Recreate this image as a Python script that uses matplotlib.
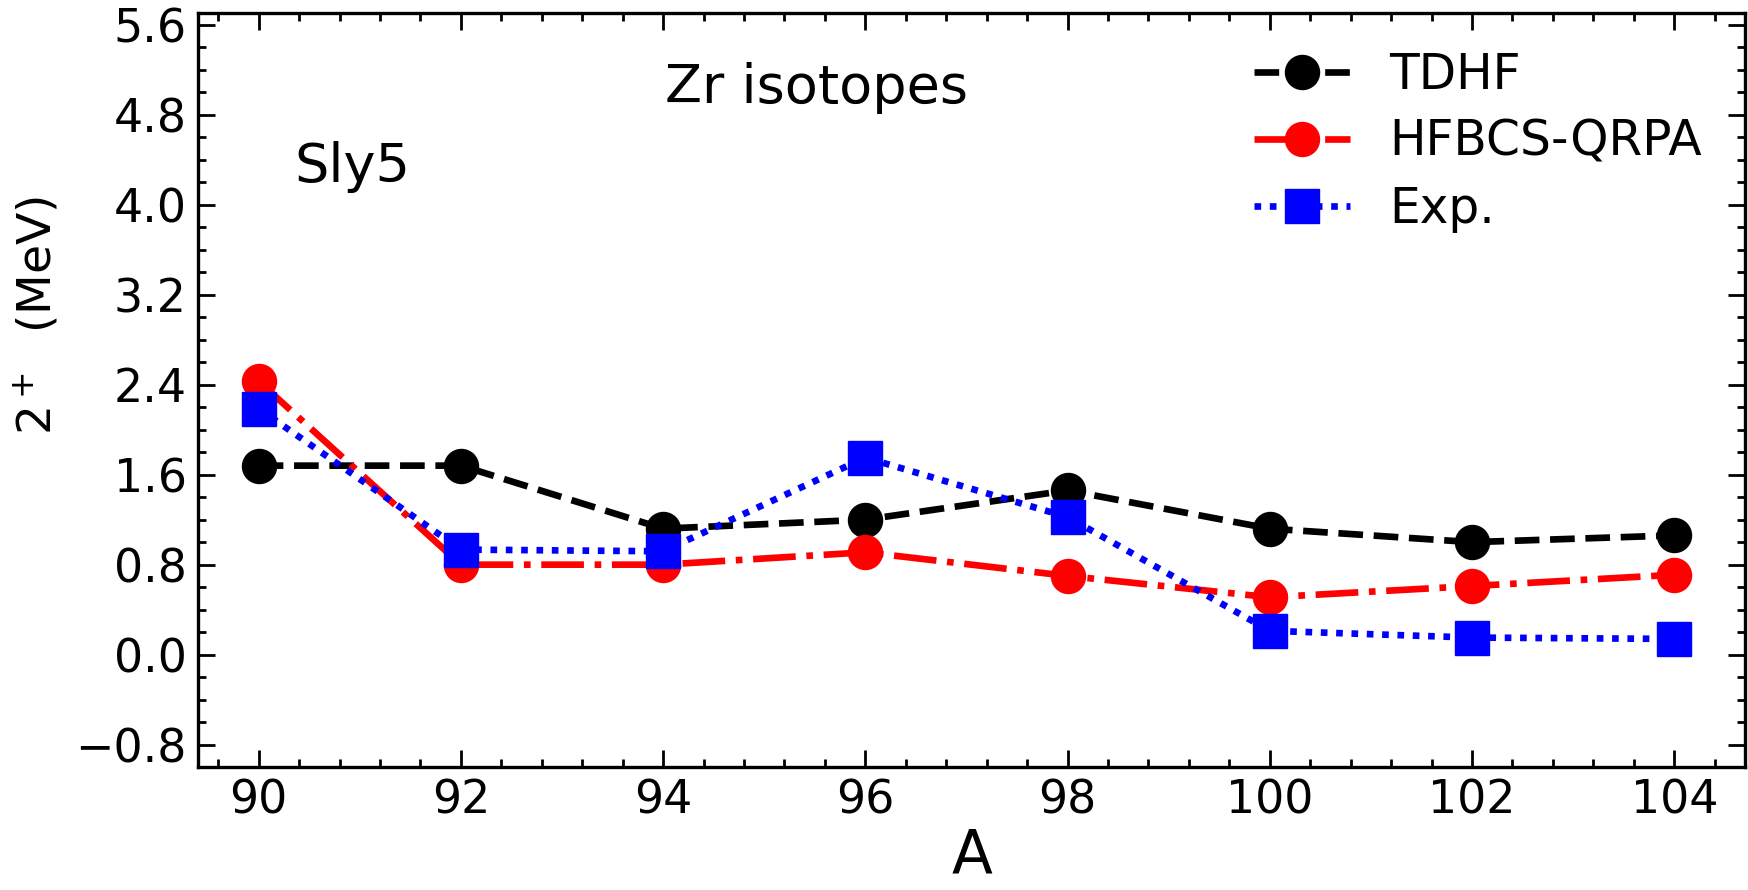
import matplotlib
matplotlib.use("Agg")
import matplotlib.pyplot as plt
from matplotlib.ticker import MultipleLocator

A = [90, 92, 94, 96, 98, 100, 102, 104]
tdhf = [1.68, 1.68, 1.12, 1.20, 1.46, 1.12, 1.00, 1.06]
hfbcs = [2.43, 0.80, 0.80, 0.91, 0.70, 0.51, 0.61, 0.71]
exp = [2.186, 0.934, 0.919, 1.751, 1.223, 0.212, 0.152, 0.140]
xticks = [90, 92, 94, 96, 98, 100, 102, 104]
yticks = [-0.8, 0.0, 0.8, 1.6, 2.4, 3.2, 4.0, 4.8, 5.6]
ytick_labels = ['\u22120.8', '0.0', '0.8', '1.6', '2.4', '3.2', '4.0', '4.8', '5.6']

fig = plt.figure(figsize=(17.48, 8.90), dpi=100)
ax = fig.add_axes([0.1133, 0.138, 0.885, 0.847])

ms = 24.5
lw = 4.8
ax.plot(A, tdhf, color='black', linestyle='--', marker='o', ms=ms, lw=lw, label='TDHF')
ax.plot(A, hfbcs, color='red', linestyle='-.', marker='o', ms=ms, lw=lw, label='HFBCS-QRPA')
ax.plot(A, exp, color='blue', linestyle=(0, (1, 1.3)), marker='s', ms=ms, lw=lw, label='Exp.')

ax.set_xlim(89.4, 104.7)
ax.set_ylim(-1.0, 5.7)
ax.set_xticks(xticks)
ax.set_yticks(yticks)
ax.set_yticklabels(ytick_labels)
ax.xaxis.set_minor_locator(MultipleLocator(0.4))
ax.yaxis.set_minor_locator(MultipleLocator(0.2))
ax.tick_params(which='both', direction='in', top=True, right=True, labelsize=33, width=2)
ax.tick_params(which='major', length=12, pad=8)
ax.tick_params(which='minor', length=6)
for s in ax.spines.values():
    s.set_linewidth(2.4)

ax.set_xlabel('A', fontsize=43, labelpad=2)
ax.set_ylabel('2$^+$  (MeV)', fontsize=34)
ax.yaxis.set_label_coords(-0.088, 0.60)

ax.text(0.400, 0.881, 'Zr isotopes', transform=ax.transAxes, fontsize=39,
        ha='center', va='baseline')
ax.text(0.062, 0.776, 'Sly5', transform=ax.transAxes, fontsize=39,
        ha='left', va='baseline')

ax.legend(loc='upper left', frameon=False, fontsize=35, handlelength=1.98,
          bbox_to_anchor=(0.670, 0.976), borderaxespad=0, labelspacing=0.39,
          handletextpad=0.8)

fig.savefig('out.png', dpi=100)
